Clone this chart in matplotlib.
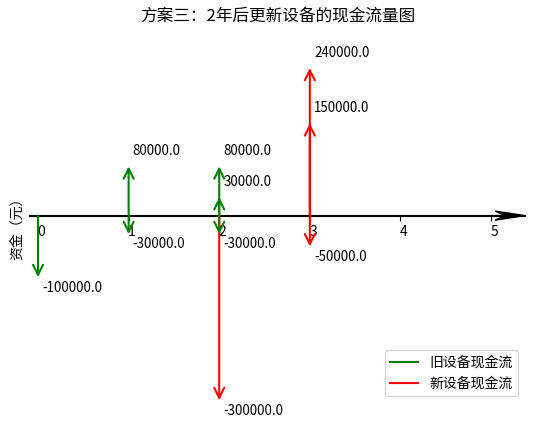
import matplotlib
matplotlib.use("Agg")
import matplotlib.pyplot as plt
from matplotlib.transforms import ScaledTranslation

plt.rcParams['font.family'] = ['Noto Sans CJK SC', 'DejaVu Sans']
plt.rcParams['axes.unicode_minus'] = False

# Data
years = [0, 1, 2, 3, 4, 5]
old_t = [0, 1, 1, 2, 2, 2]
old_v = [-100000, 80000, -30000, 80000, 30000, -30000]
new_t = [2, 3, 3, 3]
new_v = [-300000, 240000, 150000, -50000]
title = "方案三：2年后更新设备的现金流量图"
ylabel = "资金（元）"
old_label = "旧设备现金流"
new_label = "新设备现金流"

fig = plt.figure(figsize=(5.34, 4.26), dpi=100)
ax = fig.add_axes([0.0562, 0.0376, 0.927, 0.8685])
ax.set_xlim(-0.0883, 5.375)
ax.set_ylim(-316000, 285500)

for s in ['left', 'right', 'top']:
    ax.spines[s].set_visible(False)
ax.spines['bottom'].set_position(('data', 0))
ax.spines['bottom'].set_linewidth(1.5)
ax.set_yticks([])
ax.set_xticks(years)
ax.tick_params(axis='x', labelsize=10)
shift = ScaledTranslation(3.5 / 100, 0, fig.dpi_scale_trans)
for lab in ax.get_xticklabels():
    lab.set_transform(lab.get_transform() + shift)

# axis arrowhead
ax.arrow(5.05, 0, 0.325, 0, head_width=14600, head_length=0.33, overhang=0.35,
         length_includes_head=True, fc='k', ec='k', width=0, lw=1, clip_on=False)

def draw(ts, vs, color):
    for t, v in zip(ts, vs):
        ax.annotate('', xy=(t, v), xytext=(t, 0),
                    arrowprops=dict(arrowstyle='->', color=color, lw=1.5,
                                    mutation_scale=18, shrinkA=0, shrinkB=0))
        off = 11 if v > 0 else -7.5
        ax.annotate(f"{float(v)}", xy=(t, v), xytext=(3, off),
                    textcoords='offset points', va='center', ha='left',
                    fontsize=9.6)

draw(new_t, new_v, 'red')
draw(old_t, old_v, 'green')

ax.plot([], [], color='green', label=old_label)
ax.plot([], [], color='red', label=new_label)
ax.legend(loc='lower right', fontsize=10, bbox_to_anchor=(1.0, 0.018))

ax.set_title(title, fontsize=12, pad=14)
ax.set_ylabel(ylabel, fontsize=10)
ax.yaxis.set_label_coords(-0.012, 0.5)

fig.savefig("out.png", dpi=100)
